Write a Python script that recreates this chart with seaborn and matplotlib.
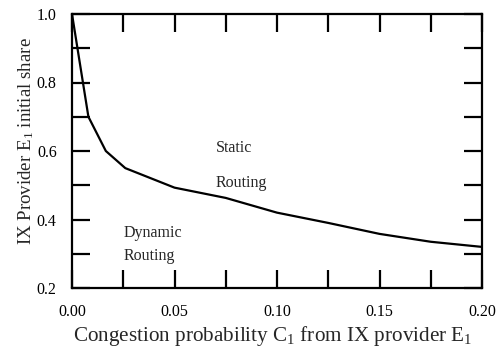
import numpy as np
import pandas as pd
import seaborn as sns
import matplotlib.pyplot as plt
from matplotlib.ticker import MultipleLocator

# boundary between static and dynamic routing
congestion = [0.0, 0.008, 0.0165, 0.026, 0.05, 0.075, 0.10, 0.125, 0.15, 0.175, 0.20]
initial_share = [1.0, 0.70, 0.60, 0.55, 0.493, 0.463, 0.42, 0.39, 0.358, 0.335, 0.32]

df = pd.DataFrame({"c": congestion, "share": initial_share})

sns.set_style("ticks")
plt.rcParams['font.family'] = ['Liberation Serif', 'DejaVu Serif']
plt.rcParams['mathtext.fontset'] = 'custom'
plt.rcParams['mathtext.rm'] = 'Liberation Serif'
plt.rcParams['mathtext.it'] = 'Liberation Serif:italic'

fig = plt.figure(figsize=(4.98, 3.49), dpi=100)
ax = fig.add_axes([72/498, 1 - 288/349, 410/498, 274/349])

sns.lineplot(data=df, x="c", y="share", ax=ax, color="black", lw=1.6)

ax.set_xlim(0, 0.2)
ax.set_ylim(0.2, 1.0)
ax.xaxis.set_major_locator(MultipleLocator(0.05))
ax.xaxis.set_minor_locator(MultipleLocator(0.025))
ax.yaxis.set_major_locator(MultipleLocator(0.2))
ax.yaxis.set_minor_locator(MultipleLocator(0.1))
ax.xaxis.set_major_formatter(plt.FormatStrFormatter('%.2f'))
ax.yaxis.set_major_formatter(plt.FormatStrFormatter('%.1f'))

for sp in ax.spines.values():
    sp.set_linewidth(1.6)
    sp.set_color("black")
ax.tick_params(which="both", direction="in", length=13, width=1.6,
               top=True, right=True, labelsize=11.5, colors="black")
ax.tick_params(axis="x", pad=11.5)
ax.tick_params(axis="y", pad=11)

ax.set_xlabel("Congestion probability C$_1$ from IX provider E$_1$", fontsize=15.2)
ax.set_ylabel("IX Provider E$_1$ initial share", fontsize=13.6)
ax.xaxis.set_label_coords(0.489, -0.176)
ax.xaxis.label.set_va("center")
ax.yaxis.set_label_coords(-0.112, 0.536)
ax.yaxis.label.set_va("center")

ax.text(0.07, 0.609, "Static", fontsize=11.5, ha="left", va="center")
ax.text(0.07, 0.507, "Routing", fontsize=11.5, ha="left", va="center")
ax.text(0.025, 0.36, "Dynamic", fontsize=11.5, ha="left", va="center")
ax.text(0.025, 0.293, "Routing", fontsize=11.5, ha="left", va="center")

fig.savefig("out.png", dpi=100)
